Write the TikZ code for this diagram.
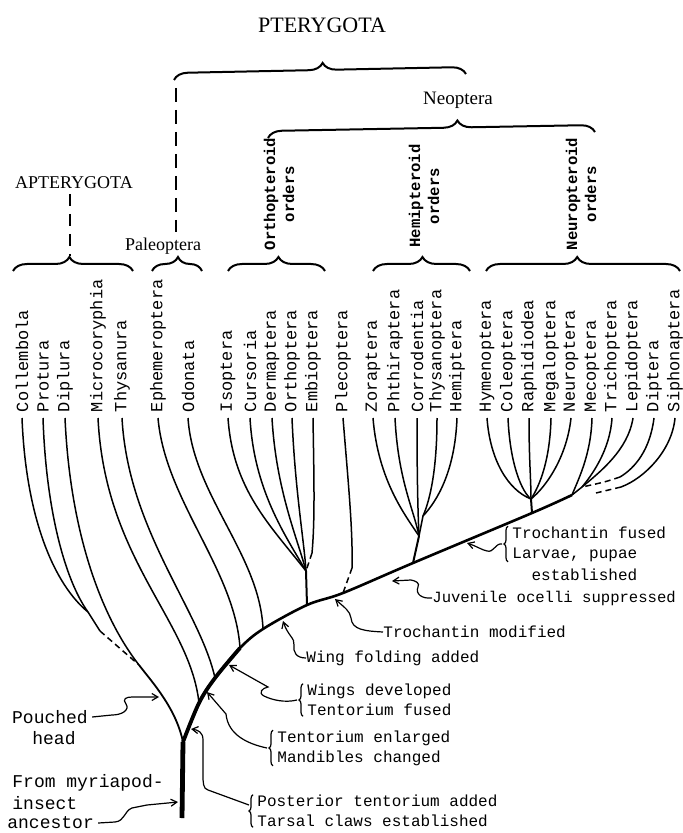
\documentclass[tikz,border=0pt]{standalone}
\usepackage{fontspec}
\setmainfont{Liberation Serif}
\setmonofont{Liberation Mono}
\usetikzlibrary{arrows.meta,decorations.pathreplacing}

\tikzset{
  order/.style={font=\ttfamily\fontsize{8.5}{10}\selectfont, rotate=90, anchor=west, inner sep=0pt, outer sep=3pt},
  group/.style={font=\ttfamily\bfseries\fontsize{7.8}{9.5}\selectfont, rotate=90, align=center, inner sep=0pt},
  taxon/.style={font=\fontsize{9}{11}\selectfont, inner sep=0pt},
  note/.style={font=\ttfamily\fontsize{8}{10}\selectfont, align=left, anchor=west, inner sep=0pt},
  sidenote/.style={font=\ttfamily\fontsize{9}{10}\selectfont, inner sep=0pt},
  twig/.style={line width=0.75pt},
  limb/.style={line width=1.3pt},
  uncertain/.style={dash pattern=on 3pt off 2pt},
  bigbrace/.style={decorate, decoration={brace, amplitude=7pt, aspect=#1}, line width=1pt},
  smallbrace/.style={decorate, decoration={brace, amplitude=2pt}, line width=0.6pt},
  pointer/.style={line width=0.6pt, -{Straight Barb[length=3pt, width=3.5pt]}}
}

\begin{document}
\begin{tikzpicture}[x=0.5pt, y=-0.5pt]
		\useasboundingbox (0,0) rectangle (682,833);
		
		%%%%% GROUPS %%%%%
		
		\node[taxon, font=\fontsize{11}{13}\selectfont] (ptery) at (322,25) {PTERYGOTA};
		\draw[bigbrace=0.51] (174,80) -- (466,74);
		\draw[line width=1pt, dash pattern=on 7pt off 4pt] (176,88) -- (176,232);
		
		\node[taxon, font=\fontsize{9.5}{11}\selectfont] (neo) at (458,100) {Neoptera};
		\draw[bigbrace=0.58] (268,138) -- (595,132);
		
		\node[taxon] (aptery) at (74,183) {APTERYGOTA};
		\draw[line width=0.8pt, dash pattern=on 6pt off 4pt] (70,194) -- (70,256);
		\node[taxon] (paleo) at (163,246) {Paleoptera};
		
		\node[group] (orthgrp) at (279,194) {Orthopteroid\\orders};
		\node[group] (hemigrp) at (424,196) {Hemipteroid\\orders};
		\node[group] (neurgrp) at (581,194) {Neuropteroid\\orders};
		
		\draw[bigbrace=0.47] (13,271) -- (133,271);
		\draw[bigbrace=0.52] (152,271) -- (202,271);
		\draw[bigbrace=0.52] (228,271) -- (325,271);
		\draw[bigbrace=0.51] (373,271) -- (470,271);
		\draw[bigbrace=0.47] (486,271) -- (680,271);
		
		%%%%% ORDERS %%%%%
		
		\node[order] (col) at (22,418) {Collembola};
		\node[order] (pro) at (43,418) {Protura};
		\node[order] (dipl) at (65,418) {Diplura};
		\node[order] (mic) at (98,418) {Microcoryphia};
		\node[order] (thy) at (122,418) {Thysanura};
		\node[order] (eph) at (158,418) {Ephemeroptera};
		\node[order] (odo) at (188,418) {Odonata};
		\node[order] (iso) at (228,418) {Isoptera};
		\node[order] (cur) at (250,418) {Cursoria};
		\node[order] (der) at (272,418) {Dermaptera};
		\node[order] (ort) at (292,418) {Orthoptera};
		\node[order] (emb) at (313,418) {Embioptera};
		\node[order] (ple) at (343,418) {Plecoptera};
		\node[order] (zor) at (373,418) {Zoraptera};
		\node[order] (pht) at (395,418) {Phthiraptera};
		\node[order] (cor) at (417,418) {Corrodentia};
		\node[order] (tho) at (437,418) {Thysanoptera};
		\node[order] (hem) at (457,418) {Hemiptera};
		\node[order] (hym) at (487,418) {Hymenoptera};
		\node[order] (cle) at (508,418) {Coleoptera};
		\node[order] (rap) at (529,418) {Raphidiodea};
		\node[order] (meg) at (551,418) {Megaloptera};
		\node[order] (neu) at (571,418) {Neuroptera};
		\node[order] (mec) at (592,418) {Mecoptera};
		\node[order] (tri) at (612,418) {Trichoptera};
		\node[order] (lep) at (633,418) {Lepidoptera};
		\node[order] (dipt) at (654,418) {Diptera};
		\node[order] (sip) at (675,418) {Siphonaptera};
		
		%%%%% JUNCTIONS %%%%%
		
		\coordinate (base) at (182,818);
		\coordinate (fork) at (183,742);
		\coordinate (asplit) at (139,665);
		\coordinate (cp) at (88,612);
		\coordinate (cp-end) at (100,631);
		\coordinate (m1) at (199,703);
		\coordinate (m2) at (215,678);
		\coordinate (m3) at (240,648);
		\coordinate (m4) at (263,629);
		\coordinate (o) at (307,605);
		\coordinate (onode) at (306,571);
		\coordinate (emb-end) at (312,553);
		\coordinate (p) at (343,593);
		\coordinate (ple-end) at (352,568);
		\coordinate (h) at (413,563);
		\coordinate (hB) at (419,536);
		\coordinate (hA) at (423,516);
		\coordinate (n) at (532,513);
		\coordinate (nnode) at (531,499);
		\coordinate (mend) at (572,495);
		\coordinate (tl) at (582,487);
		\coordinate (dipt-end) at (620,477);
		\coordinate (sip-end) at (621,487);
		\coordinate (sip-join) at (596,493);
		
		%%%%% TREE %%%%%
		
		\draw[line width=2.4pt] (base) -- (fork);
		\draw[limb] plot[smooth, tension=0.55] coordinates {(fork) (m1) (m2) (m3) (m4) (o) (p) (h) (n) (mend)};
		\draw[line width=1.9pt] plot[smooth, tension=0.55] coordinates {(fork) (m1) (m2) (m3)};
		\draw[line width=0.9pt] (asplit) .. controls (152,682) and (176,708) .. (fork);
		
		\draw[twig] (col.west) .. controls (26,520) and (55,585) .. (cp);
		\draw[twig] (pro.west) .. controls (46,510) and (65,580) .. (cp);
		\draw[twig] (cp) -- (cp-end);
		\draw[twig, uncertain] (cp-end) -- (asplit);
		\draw[twig] (dipl.west) .. controls (70,530) and (100,615) .. (asplit);
		
		\draw[twig] (mic.west) .. controls (105,560) and (190,620) .. (m1);
		\draw[twig] (thy.west) .. controls (128,530) and (200,610) .. (m2);
		\draw[twig] (eph.west) .. controls (165,500) and (235,570) .. (m3);
		\draw[twig] (odo.west) .. controls (193,495) and (260,555) .. (m4);
		
		\draw[twig] (iso.west) .. controls (233,490) and (270,525) .. (onode);
		\draw[twig] (cur.west) .. controls (254,490) and (285,535) .. (onode);
		\draw[twig] (der.west) .. controls (276,490) and (298,540) .. (onode);
		\draw[twig] (ort.west) .. controls (295,490) and (304,540) .. (onode);
		\draw[twig] (emb.west) .. controls (314,480) and (315,520) .. (emb-end);
		\draw[twig, uncertain] (emb-end) -- (onode);
		\draw[line width=1pt] (onode) -- (o);
		
		\draw[twig] (ple.west) .. controls (348,480) and (353,530) .. (ple-end);
		\draw[twig, uncertain] (ple-end) -- (p);
		
		\draw[twig] (zor.west) .. controls (378,480) and (405,515) .. (hB);
		\draw[twig] (pht.west) .. controls (398,480) and (414,510) .. (hB);
		\draw[twig] (cor.west) .. controls (417,480) and (418,515) .. (hB);
		\draw[twig] (tho.west) .. controls (437,470) and (430,500) .. (hA);
		\draw[twig] (hem.west) .. controls (455,470) and (438,500) .. (hA);
		\draw[twig] (hA) -- (hB);
		\draw[line width=1pt] (hB) -- (h);
		
		\draw[twig] (hym.west) .. controls (490,460) and (508,490) .. (nnode);
		\draw[twig] (cle.west) .. controls (510,465) and (522,492) .. (nnode);
		\draw[twig] (rap.west) .. controls (529,460) and (531,480) .. (nnode);
		\draw[twig] (meg.west) .. controls (550,460) and (540,485) .. (nnode);
		\draw[twig] (neu.west) .. controls (567,455) and (548,485) .. (nnode);
		\draw[line width=1pt] (nnode) -- (n);
		
		\draw[twig] (mec.west) .. controls (591,455) and (578,480) .. (mend);
		\draw[twig] (tri.west) .. controls (610,450) and (592,475) .. (tl);
		\draw[twig] (lep.west) .. controls (628,450) and (600,472) .. (tl);
		\draw[twig] (tl) -- (mend);
		\draw[twig] (dipt.west) .. controls (650,450) and (635,468) .. (dipt-end);
		\draw[twig, uncertain] (dipt-end) .. controls (605,482) .. (tl);
		\draw[twig] (sip.west) .. controls (672,450) and (645,478) .. (sip-end);
		\draw[twig, uncertain] (sip-end) -- (sip-join);
		
		%%%%% CHARACTERS %%%%%
		
		\coordinate (aTf) at (467,543);
		\coordinate (aJuv) at (392,581);
		\coordinate (aTm) at (335,599);
		\coordinate (aWf) at (283,621);
		\coordinate (aWd) at (229,665);
		\coordinate (aTe) at (207,692);
		\coordinate (aPt) at (191,729);
		\coordinate (aPh) at (159,697);
		\coordinate (aFm) at (178,802);
		
		\node[note] (tfus) at (512,544) {Trochantin fused\\Larvae, pupae};
		\node[note] (estab) at (512,575) {\phantom{La}established};
		\draw[smallbrace] ([xshift=-2pt]tfus.south west) -- ([xshift=-2pt]tfus.north west);
		\draw[pointer] ([xshift=-5pt]tfus.west) .. controls (495,543) and (494,553) .. (487,551) .. controls (482,550) and (476,546) .. (aTf);
		
		\node[note, font=\ttfamily\fontsize{7.8}{10}\selectfont] (juv) at (432,598) {Juvenile ocelli suppressed};
		\draw[pointer] (juv.west) .. controls (422,599) and (415,594) .. (418,587) .. controls (420,583) and (416,581) .. (411,580) -- (aJuv);
		
		\node[note] (tmod) at (383,632) {Trochantin modified};
		\draw[pointer] (tmod.west) .. controls (365,631) and (352,630) .. (351,618) .. controls (350,611) and (345,608) .. (aTm);
		
		\node[note] (wfold) at (306,658) {Wing folding added};
		\draw[pointer] (wfold.west) .. controls (296,658) and (293,652) .. (294,645) .. controls (295,638) and (288,636) .. (aWf);
		
		\node[note] (wdev) at (307,700) {Wings developed\\Tentorium fused};
		\draw[smallbrace] ([xshift=-2pt]wdev.south west) -- ([xshift=-2pt]wdev.north west);
		\draw[pointer] ([xshift=-5pt]wdev.west) .. controls (285,703) and (272,700) .. (264,696) .. controls (258,693) and (262,688) .. (268,687) -- (aWd);
		
		\node[note] (tenl) at (277,748) {Tentorium enlarged\\Mandibles changed};
		\draw[smallbrace] ([xshift=-2pt]tenl.south west) -- ([xshift=-2pt]tenl.north west);
		\draw[pointer] ([xshift=-5pt]tenl.west) .. controls (248,744) and (228,735) .. (226,714) -- (aTe);
		
		\node[note] (post) at (257,811) {Posterior tentorium added\\Tarsal claws established};
		\draw[smallbrace] ([xshift=-2pt]post.south west) -- ([xshift=-2pt]post.north west);
		\draw[pointer] ([xshift=-4pt,yshift=3pt]post.west) -- (208,790) .. controls (203,789) and (203,782) .. (203,775) -- (203,740) .. controls (203,732) and (198,730) .. (aPt);
		
		\node[sidenote] (pch1) at (50,717) {Pouched};
		\node[sidenote] (pch2) at (54,738) {head};
		\draw[pointer] ([xshift=2pt]pch1.east) -- (112,715) .. controls (122,715) and (130,710) .. (126,704) .. controls (122,699) and (126,697) .. (132,697) -- (aPh);
		
		\node[sidenote, anchor=west] (fm1) at (12,783) {From myriapod-};
		\node[sidenote, anchor=west] (fm2) at (12,803) {insect};
		\node[sidenote, anchor=west] (fm3) at (7,823) {ancestor};
		\draw[pointer] ([xshift=2pt]fm3.east) -- (115,822) .. controls (125,821) and (124,811) .. (132,808) -- (147,805) -- (aFm);
		
	\end{tikzpicture}
\end{document}
